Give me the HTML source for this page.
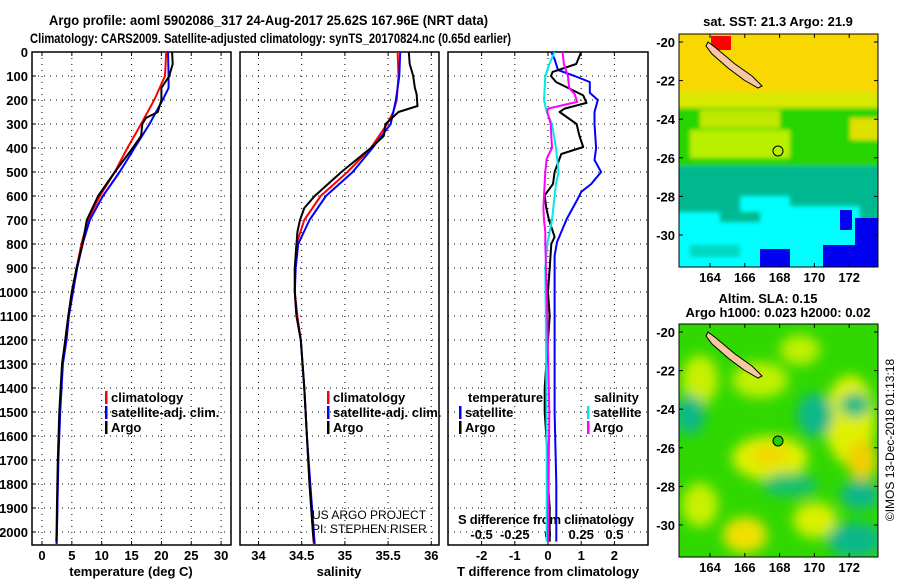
<!DOCTYPE html>
<html><head><meta charset="utf-8">
<style>
html,body{margin:0;padding:0;background:#fff;}
svg{display:block;font-family:"Liberation Sans",Arial,sans-serif;}
.t{font-weight:bold;font-size:13px;fill:#000;}
.ti{font-weight:bold;font-size:14px;fill:#000;}
</style></head>
<body>
<svg id="fig" width="900" height="580" viewBox="0 0 900 580">
<defs>
<clipPath id="m1clip"><rect x="679" y="34" width="199" height="233"/></clipPath>
<clipPath id="m2clip"><rect x="679" y="324" width="199" height="233"/></clipPath>
<filter id="blur1"><feGaussianBlur stdDeviation="2"/></filter>
<filter id="blur2"><feGaussianBlur stdDeviation="6"/></filter>
</defs>
<text class="ti" x="49" y="25" textLength="439" lengthAdjust="spacingAndGlyphs">Argo profile: aoml 5902086_317 24-Aug-2017 25.62S 167.96E (NRT data)</text>
<text class="ti" x="30" y="43" textLength="481" lengthAdjust="spacingAndGlyphs">Climatology: CARS2009. Satellite-adjusted climatology: synTS_20170824.nc (0.65d earlier)</text>

<!-- Map 1 SST -->
<g clip-path="url(#m1clip)">
  <rect x="679" y="34" width="199" height="233" fill="#00ffff"/>
  <g filter="url(#blur1)">
  <rect x="670" y="25" width="220" height="72" fill="#f8d800"/>
  <rect x="670" y="92" width="220" height="22" fill="#d8e800"/>
  <rect x="670" y="108" width="220" height="64" fill="#28d400"/>
  <rect x="700" y="110" width="80" height="18" fill="#c0e800"/>
  <rect x="690" y="130" width="100" height="28" fill="#b8f000"/>
  <rect x="850" y="118" width="30" height="22" fill="#e0e000"/>
  <rect x="670" y="166" width="220" height="30" fill="#00b890"/>
  <rect x="670" y="190" width="70" height="22" fill="#00b890"/>
  <rect x="790" y="196" width="90" height="10" fill="#00b890"/>
  <rect x="720" y="212" width="40" height="10" fill="#00b890"/>
  <rect x="860" y="200" width="20" height="40" fill="#00b890"/>
  <rect x="690" y="245" width="50" height="12" fill="#00d8c0"/>
  </g>
  <rect x="840" y="210" width="12" height="20" fill="#0000f0"/>
  <rect x="855" y="218" width="23" height="30" fill="#0000f0"/>
  <rect x="823" y="245" width="55" height="22" fill="#0000f0"/>
  <rect x="760" y="249" width="30" height="18" fill="#0000f0"/>
  <rect x="711" y="36" width="20" height="14" fill="#ff0000"/>
  <polygon points="708,42 716,48 735,64 752,76 762,86 758,88 744,80 728,68 712,54 706,46" fill="#f8c8a0" stroke="#000" stroke-width="1"/>
  <circle cx="778" cy="151" r="5" fill="none" stroke="#000" stroke-width="1"/>
</g>
<rect x="679" y="34" width="199" height="233" fill="none" stroke="#000"/>
<text class="t" x="778" y="26" text-anchor="middle">sat. SST: 21.3 Argo: 21.9</text>

<!-- Map 2 SLA -->
<g clip-path="url(#m2clip)">
  <rect x="679" y="324" width="199" height="233" fill="#30d800"/>
  <g filter="url(#blur2)">
  <ellipse cx="770" cy="458" rx="38" ry="22" fill="#e0f000"/>
  <ellipse cx="770" cy="455" rx="18" ry="11" fill="#f0d800"/>
  <ellipse cx="760" cy="380" rx="28" ry="18" fill="#c0f000"/>
  <ellipse cx="850" cy="420" rx="25" ry="45" fill="#e0f000"/>
  <ellipse cx="862" cy="460" rx="15" ry="20" fill="#f0d000"/>
  <ellipse cx="745" cy="535" rx="22" ry="18" fill="#f0e000"/>
  <ellipse cx="700" cy="380" rx="18" ry="25" fill="#c8f000"/>
  <ellipse cx="700" cy="505" rx="18" ry="22" fill="#c8f000"/>
  <ellipse cx="815" cy="520" rx="22" ry="18" fill="#d8f000"/>
  <ellipse cx="800" cy="350" rx="20" ry="15" fill="#c0f000"/>
  <ellipse cx="815" cy="415" rx="18" ry="22" fill="#10b888"/>
  <ellipse cx="690" cy="415" rx="15" ry="20" fill="#10b888"/>
  <ellipse cx="855" cy="540" rx="28" ry="18" fill="#10b888"/>
  <ellipse cx="860" cy="495" rx="20" ry="15" fill="#10b888"/>
  <ellipse cx="855" cy="405" rx="15" ry="12" fill="#10b888"/>
  <ellipse cx="790" cy="485" rx="28" ry="12" fill="#18c070"/>
  </g>
  <polygon points="708,332 716,338 735,354 752,366 762,376 758,378 744,370 728,358 712,344 706,336" fill="#f8c8a0" stroke="#000" stroke-width="1"/>
  <circle cx="778" cy="441" r="5" fill="#20d000" stroke="#000" stroke-width="1"/>
</g>
<rect x="679" y="324" width="199" height="233" fill="none" stroke="#000"/>
<text class="t" x="768" y="303" text-anchor="middle">Altim. SLA: 0.15</text>
<text class="t" x="778" y="317" text-anchor="middle">Argo h1000: 0.023 h2000: 0.02</text>
<text x="894" y="440" font-size="12" text-anchor="middle" transform="rotate(-90 894 440)">©IMOS 13-Dec-2018 01:13:18</text>

<g id="plots"></g>
</svg>
<script>
// ---- data ----
const depthTicks = [0,100,200,300,400,500,600,700,800,900,1000,1100,1200,1300,1400,1500,1600,1700,1800,1900,2000];
const tempTicks = [0,5,10,15,20,25,30];
const salTicks = [34,34.5,35,35.5,36];
const tdiffTicks = [-2,-1,0,1,2];
const sdiffTickLabels = ["-0.5","-0.25","0","0.25","0.5"];
const sdiffTicks = [-0.5,-0.25,0,0.25,0.5];

const depthTClim = [0,100,200,300,400,500,600,700,800,900,1000,1100,1200,1300,1500,1700,2000,2050];
const tClim = [20.8,20.6,18.8,16.6,14.3,12.2,9.7,7.7,6.6,5.8,5.0,4.4,3.9,3.4,3.0,2.7,2.5,2.45];
const depthTSat = [0,100,150,200,300,400,500,600,700,800,900,1000,1100,1200,1300,1500,1700,2000,2050];
const tSat = [21.1,21.2,21.2,20.2,18.0,15.5,13.0,10.2,8.0,6.8,5.9,5.2,4.5,4.1,3.5,3.05,2.75,2.5,2.45];
const depthTArgo = [0,50,100,150,200,250,275,300,350,400,500,600,700,800,900,1000,1100,1200,1300,1500,1700,1900,2000,2040];
const tArgo = [21.8,21.9,21.3,20.0,20.0,19.4,17.4,16.8,16.6,15.2,12.2,9.4,7.5,6.8,5.8,5.0,4.4,3.9,3.35,2.9,2.65,2.5,2.45,2.4];

const depthS = [0,100,200,250,300,400,500,600,700,800,900,1000,1100,1200,1400,1600,1800,2000,2050];
const sClim = [35.61,35.62,35.60,35.56,35.49,35.30,35.03,34.72,34.53,34.44,34.42,34.42,34.45,34.49,34.53,34.56,34.59,34.63,34.64];
const sSat = [35.64,35.63,35.59,35.56,35.53,35.32,35.09,34.78,34.59,34.46,34.43,34.42,34.44,34.49,34.53,34.56,34.60,34.64,34.65];
const depthSArgo = [0,50,100,150,175,225,250,300,350,400,500,600,650,700,750,800,900,950,1000,1100,1200,1400,1600,1800,2000,2040];
const sArgo = [35.74,35.75,35.79,35.81,35.83,35.84,35.62,35.47,35.45,35.30,34.96,34.65,34.53,34.48,34.45,34.44,34.42,34.42,34.42,34.44,34.49,34.53,34.56,34.59,34.63,34.64];

const depthDTArgo = [0,50,83,100,125,181,212,236,250,300,350,396,425,500,550,597,650,700,770,800,900,1000,1100,1200,1300,1400,1500,1600,1700,1800,1900,2000,2040];
const dTArgo = [1.0,0.85,0.14,0.09,0.24,1.06,1.16,0.5,0.35,0.86,0.95,1.06,0.4,0.2,0.15,-0.1,-0.05,0.03,0.2,0.1,0.05,0.0,0.05,0.0,-0.05,-0.1,-0.1,-0.05,0.0,0.0,0.05,0.05,0.05];
const depthDTSat = [0,30,75,100,125,170,200,250,300,400,450,500,550,583,611,694,792,850,900,1000,1200,1500,1800,2040];
const dTSat = [0.1,0.2,0.3,0.8,1.26,1.26,1.5,1.4,1.4,1.45,1.4,1.6,1.3,1.0,0.9,0.57,0.27,0.2,0.2,0.2,0.2,0.2,0.25,0.25];
const depthDSSat = [0,50,100,200,250,300,400,500,550,600,700,800,900,1200,1600,2040];
const dSSat = [0.05,0.01,-0.02,-0.03,-0.01,0.03,0.06,0.08,0.06,0.05,0.03,-0.005,-0.02,-0.015,-0.01,-0.01];
const depthDSArgo = [0,50,100,150,175,208,236,250,300,350,400,444,500,600,650,700,750,800,1000,1500,2040];
const dSArgo = [0.11,0.12,0.15,0.16,0.2,0.22,0.0,-0.005,0.02,0.025,0.03,-0.01,-0.02,-0.03,-0.035,-0.03,-0.02,-0.02,-0.01,0.01,0.0];

const mapLonTicks = [164,166,168,170,172];
const mapLatTicks = [-20,-22,-24,-26,-28,-30];

// ---- layout ----
const NS = "http://www.w3.org/2000/svg";
const root = document.getElementById('plots');
const TOP = 52, BOT = 545;
const yD = d => TOP + d * 0.24;
const xT = v => 42 + v * 5.97;
const xS = v => 258.5 + (v - 34) * 86.4;
const xDT = v => 548 + v * 33.2;
const xDS = v => 548 + v * 132.8;
const panels = [{x0:32,x1:231},{x0:240,x1:439},{x0:448,x1:648}];

function mk(tag, attrs, parent) {
  const e = document.createElementNS(NS, tag);
  for (const k in attrs) e.setAttribute(k, attrs[k]);
  (parent || root).appendChild(e);
  return e;
}
function txt(x, y, s, anchor, cls, parent) {
  const e = mk('text', {x:x, y:y, 'text-anchor':anchor||'start', class:cls||'t'}, parent);
  e.textContent = s;
  return e;
}

panels.forEach((p, i) => {
  const g = mk('g', {});
  
  
  depthTicks.forEach(d => {
    const l = mk('line', {x1:p.x0, x2:p.x1, y1:yD(d), y2:yD(d), stroke:'#000', 'stroke-width':1, 'stroke-dasharray':'1,5'}, g);
    
    
  });
  const ticks = i === 0 ? tempTicks.map(xT) : i === 1 ? salTicks.map(xS) : tdiffTicks.map(xDT);
  ticks.forEach(x => {
    const l = mk('line', {x1:x, x2:x, y1:TOP, y2:BOT, stroke:'#000', 'stroke-width':1, 'stroke-dasharray':'1,5'}, g);
    
    
    mk('line', {x1:x, x2:x, y1:BOT, y2:BOT-4, stroke:'#000'}, g);
    mk('line', {x1:x, x2:x, y1:TOP, y2:TOP+4, stroke:'#000'}, g);
  });
  const f = mk('rect', {x:p.x0, y:TOP, width:p.x1-p.x0, height:BOT-TOP, fill:'none', stroke:'#000', 'stroke-width':1.5}, g);
  
  
});

depthTicks.forEach(d => {
  const t = txt(28, yD(d) + 5, String(d), 'end');
  
  
  mk('line', {x1:32, x2:36, y1:yD(d), y2:yD(d), stroke:'#000'});
});
tempTicks.forEach(v => { const t = txt(xT(v), 560, String(v), 'middle');   });
salTicks.forEach(v => { const t = txt(xS(v), 560, String(v), 'middle');   });
tdiffTicks.forEach(v => { const t = txt(xDT(v), 560, String(v), 'middle');   });
sdiffTicks.forEach((v, i) => { const t = txt(xDS(v), 539, sdiffTickLabels[i], 'middle');   });

let a = txt(131, 576, 'temperature (deg C)', 'middle');  
a = txt(339, 576, 'salinity', 'middle');  
a = txt(548, 576, 'T difference from climatology', 'middle');  
a = txt(458, 524, 'S difference from climatology', 'start');  
a.setAttribute('textLength', '176');

function line(xs, ds, xf, color, name, w) {
  const pts = xs.map((v, i) => xf(v).toFixed(1) + ',' + yD(ds[i]).toFixed(1)).join(' ');
  const p = mk('polyline', {points:pts, fill:'none', stroke:color, 'stroke-width':w||2, 'stroke-linejoin':'round'});
  
  
}
line(tClim, depthTClim, xT, '#ff0000', 'temp-climatology-line');
line(tSat, depthTSat, xT, '#0000ff', 'temp-satellite-line');
line(tArgo, depthTArgo, xT, '#000000', 'temp-argo-line');
line(sClim, depthS, xS, '#ff0000', 'salinity-climatology-line');
line(sSat, depthS, xS, '#0000ff', 'salinity-satellite-line');
line(sArgo, depthSArgo, xS, '#000000', 'salinity-argo-line');
line(dTSat, depthDTSat, xDT, '#0000ff', 'tdiff-satellite-line');
line(dTArgo, depthDTArgo, xDT, '#000000', 'tdiff-argo-line');
line(dSSat, depthDSSat, xDS, '#00e8e8', 'sdiff-satellite-line');
line(dSArgo, depthDSArgo, xDS, '#ff00ff', 'sdiff-argo-line');

function leg(x, y, color, label, name) {
  const g = mk('g', {});
  
  
  if (color) mk('rect', {x:x, y:y-11, width:2.5, height:13, fill:color}, g);
  txt(x + 6, y, label, 'start', 't', g);
}
leg(105, 402, '#ff0000', 'climatology', 'legend-climatology');
leg(105, 417, '#0000ff', 'satellite-adj. clim.', 'legend-satellite');
leg(105, 432, '#000000', 'Argo', 'legend-argo');
leg(327, 402, '#ff0000', 'climatology', 'legend-sal-climatology');
leg(327, 417, '#0000ff', 'satellite-adj. clim.', 'legend-sal-satellite');
leg(327, 432, '#000000', 'Argo', 'legend-sal-argo');
leg(462, 402, null, 'temperature', 'legend-diff-temperature-head');
leg(459, 417, '#0000ff', 'satellite', 'legend-diff-temp-satellite');
leg(459, 432, '#000000', 'Argo', 'legend-diff-temp-argo');
leg(588, 402, null, 'salinity', 'legend-diff-salinity-head');
leg(587, 417, '#00e8e8', 'satellite', 'legend-diff-sal-satellite');
leg(587, 432, '#ff00ff', 'Argo', 'legend-diff-sal-argo');
let c = mk('text', {x:312, y:519, 'font-size':12});
c.textContent = 'US ARGO PROJECT';


c = mk('text', {x:312, y:533, 'font-size':12});
c.textContent = 'PI: STEPHEN RISER';



const lonX = v => 710 + (v - 164) * 17.4;
[[34,267,282],[324,557,572]].forEach(([t0, t1, ly]) => {
  const latY = v => t0 + 8 + (-20 - v) * 19.3;
  mapLonTicks.forEach(v => {
    mk('line', {x1:lonX(v), x2:lonX(v), y1:t1, y2:t1-4, stroke:'#000'});
    mk('line', {x1:lonX(v), x2:lonX(v), y1:t0, y2:t0+4, stroke:'#000'});
    const t = txt(lonX(v), ly, String(v), 'middle');
    
    
  });
  mapLatTicks.forEach(v => {
    mk('line', {x1:679, x2:683, y1:latY(v), y2:latY(v), stroke:'#000'});
    mk('line', {x1:874, x2:878, y1:latY(v), y2:latY(v), stroke:'#000'});
    const t = txt(675, latY(v) + 5, String(v), 'end');
    
    
  });
});
</script>
</body></html>
